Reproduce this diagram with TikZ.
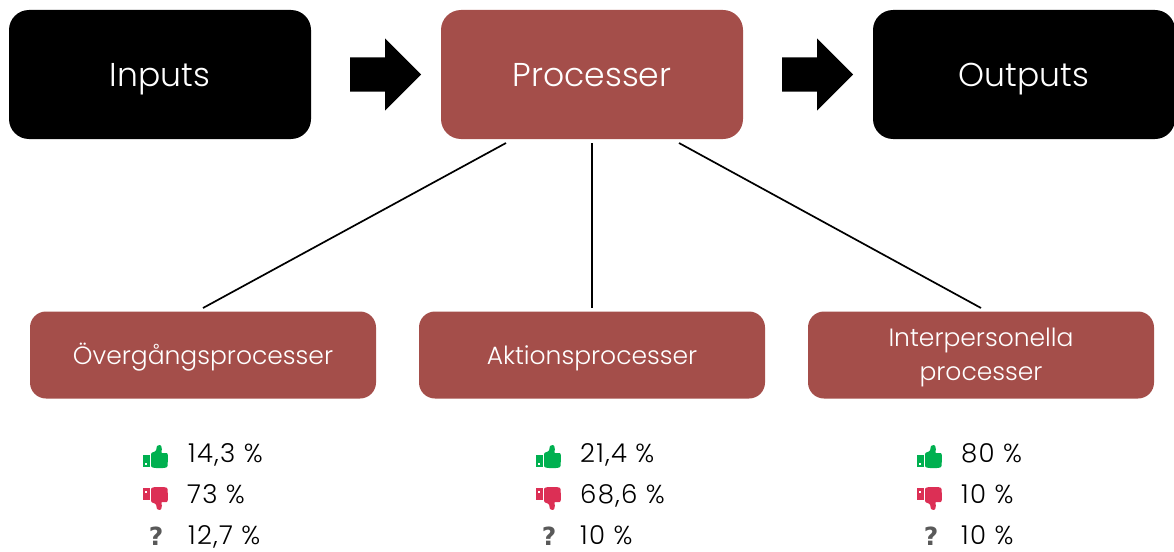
\documentclass[tikz,border=0pt]{standalone}
\usepackage{fontspec}
\setmainfont{Poppins}[UprightFont=* Light]
\newfontfamily\qfont{DejaVu Sans}[BoldFont=* Bold]
\usetikzlibrary{calc}
\definecolor{brick}{HTML}{A44E4A}
\definecolor{upgreen}{HTML}{00B050}
\definecolor{downred}{HTML}{DC2F55}
\definecolor{qgray}{HTML}{595959}
\tikzset{
  x=1pt,y=-1pt,
  box/.style={rounded corners=20pt,minimum width=302pt,minimum height=129pt,inner sep=0pt,text=white,text height=23pt,text depth=0pt,font=\fontsize{33}{38}\selectfont},
  subbox/.style={fill=brick,rounded corners=16pt,minimum width=346pt,minimum height=87pt,inner sep=0pt,text=white,align=center,text height=18pt,text depth=0pt,font=\fontsize{25}{34}\selectfont},
  val/.style={anchor=base west,inner sep=0pt,text=black,font=\addfontfeature{LetterSpace=5}\fontsize{26}{28}\selectfont},
  link/.style={draw=black,line width=1.7pt},
  qmark/.style={anchor=base,inner sep=0pt,text=qgray,font=\qfont\bfseries\fontsize{25}{28}\selectfont},
  pics/thumbup/.style={code={
    \fill[upgreen] (0,10) rectangle (7,22);
    \fill[white] (2,17.5) rectangle (4,19.5);
    \fill[upgreen,rounded corners=1pt] (8,8) -- (13,6) -- (14,0.5) -- (18,0) -- (19,5) -- (18,8) -- (24.5,8) -- (25,12) -- (24.5,22) -- (21,23) -- (12,23) -- (8,22) -- cycle;
  }},
  pics/thumbdown/.style={code={
    \fill[downred] (0,1) rectangle (7,13);
    \fill[white] (2,3.5) rectangle (4,5.5);
    \fill[downred,rounded corners=1pt] (8,15) -- (13,17) -- (14,22.5) -- (18,23) -- (19,18) -- (18,15) -- (24.5,15) -- (25,11) -- (24.5,1) -- (21,0) -- (12,0) -- (8,1) -- cycle;
  }}
}
\begin{document}
\begin{tikzpicture}
\useasboundingbox (0,0) rectangle (1174,551);
\node[box,fill=black] (inp) at (160,74.5) {Inputs};
\node[box,fill=brick] (proc) at (592,74.5) {Processer};
\node[box,fill=black] (outp) at (1024,74.5) {Outputs};
\fill[black] (350,57.5) -- (385,57.5) -- (385,38.5) -- (421,74.5) -- (385,110.5) -- (385,91.5) -- (350,91.5) -- cycle;
\fill[black] (782,57.5) -- (817,57.5) -- (817,38.5) -- (853,74.5) -- (817,110.5) -- (817,91.5) -- (782,91.5) -- cycle;
\node[subbox] (ov) at (203,355) {Övergångsprocesser};
\node[subbox] (ak) at (592,355) {Aktionsprocesser};
\node[subbox,text height=51pt] (ip) at (981,355) {Interpersonella\\processer};
\coordinate (a1) at (506,143); \coordinate (b1) at (203,308);
\coordinate (a2) at (592,143); \coordinate (b2) at (592,308);
\coordinate (a3) at (679,143); \coordinate (b3) at (981,308);
\draw[link] (a1) -- (b1);
\draw[link] (a2) -- (b2);
\draw[link] (a3) -- (b3);
\pic at (143,445) {thumbup};
\pic at (143,487) {thumbdown};
\node[qmark] (q1) at (156,545) {?};
\node[val] (t1) at (188,462) {14,3 \%};
\node[val] (t2) at (187,503) {73 \%};
\node[val] (t3) at (188,544) {12,7 \%};
\pic at (536,445) {thumbup};
\pic at (536,487) {thumbdown};
\node[qmark] (q2) at (549,545) {?};
\node[val] (t4) at (580,462) {21,4 \%};
\node[val] (t5) at (580,503) {68,6 \%};
\node[val] (t6) at (580,544) {10 \%};
\pic at (917,445) {thumbup};
\pic at (917,487) {thumbdown};
\node[qmark] (q3) at (931,545) {?};
\node[val] (t7) at (961,462) {80 \%};
\node[val] (t8) at (961,503) {10 \%};
\node[val] (t9) at (961,544) {10 \%};
\end{tikzpicture}
\end{document}
